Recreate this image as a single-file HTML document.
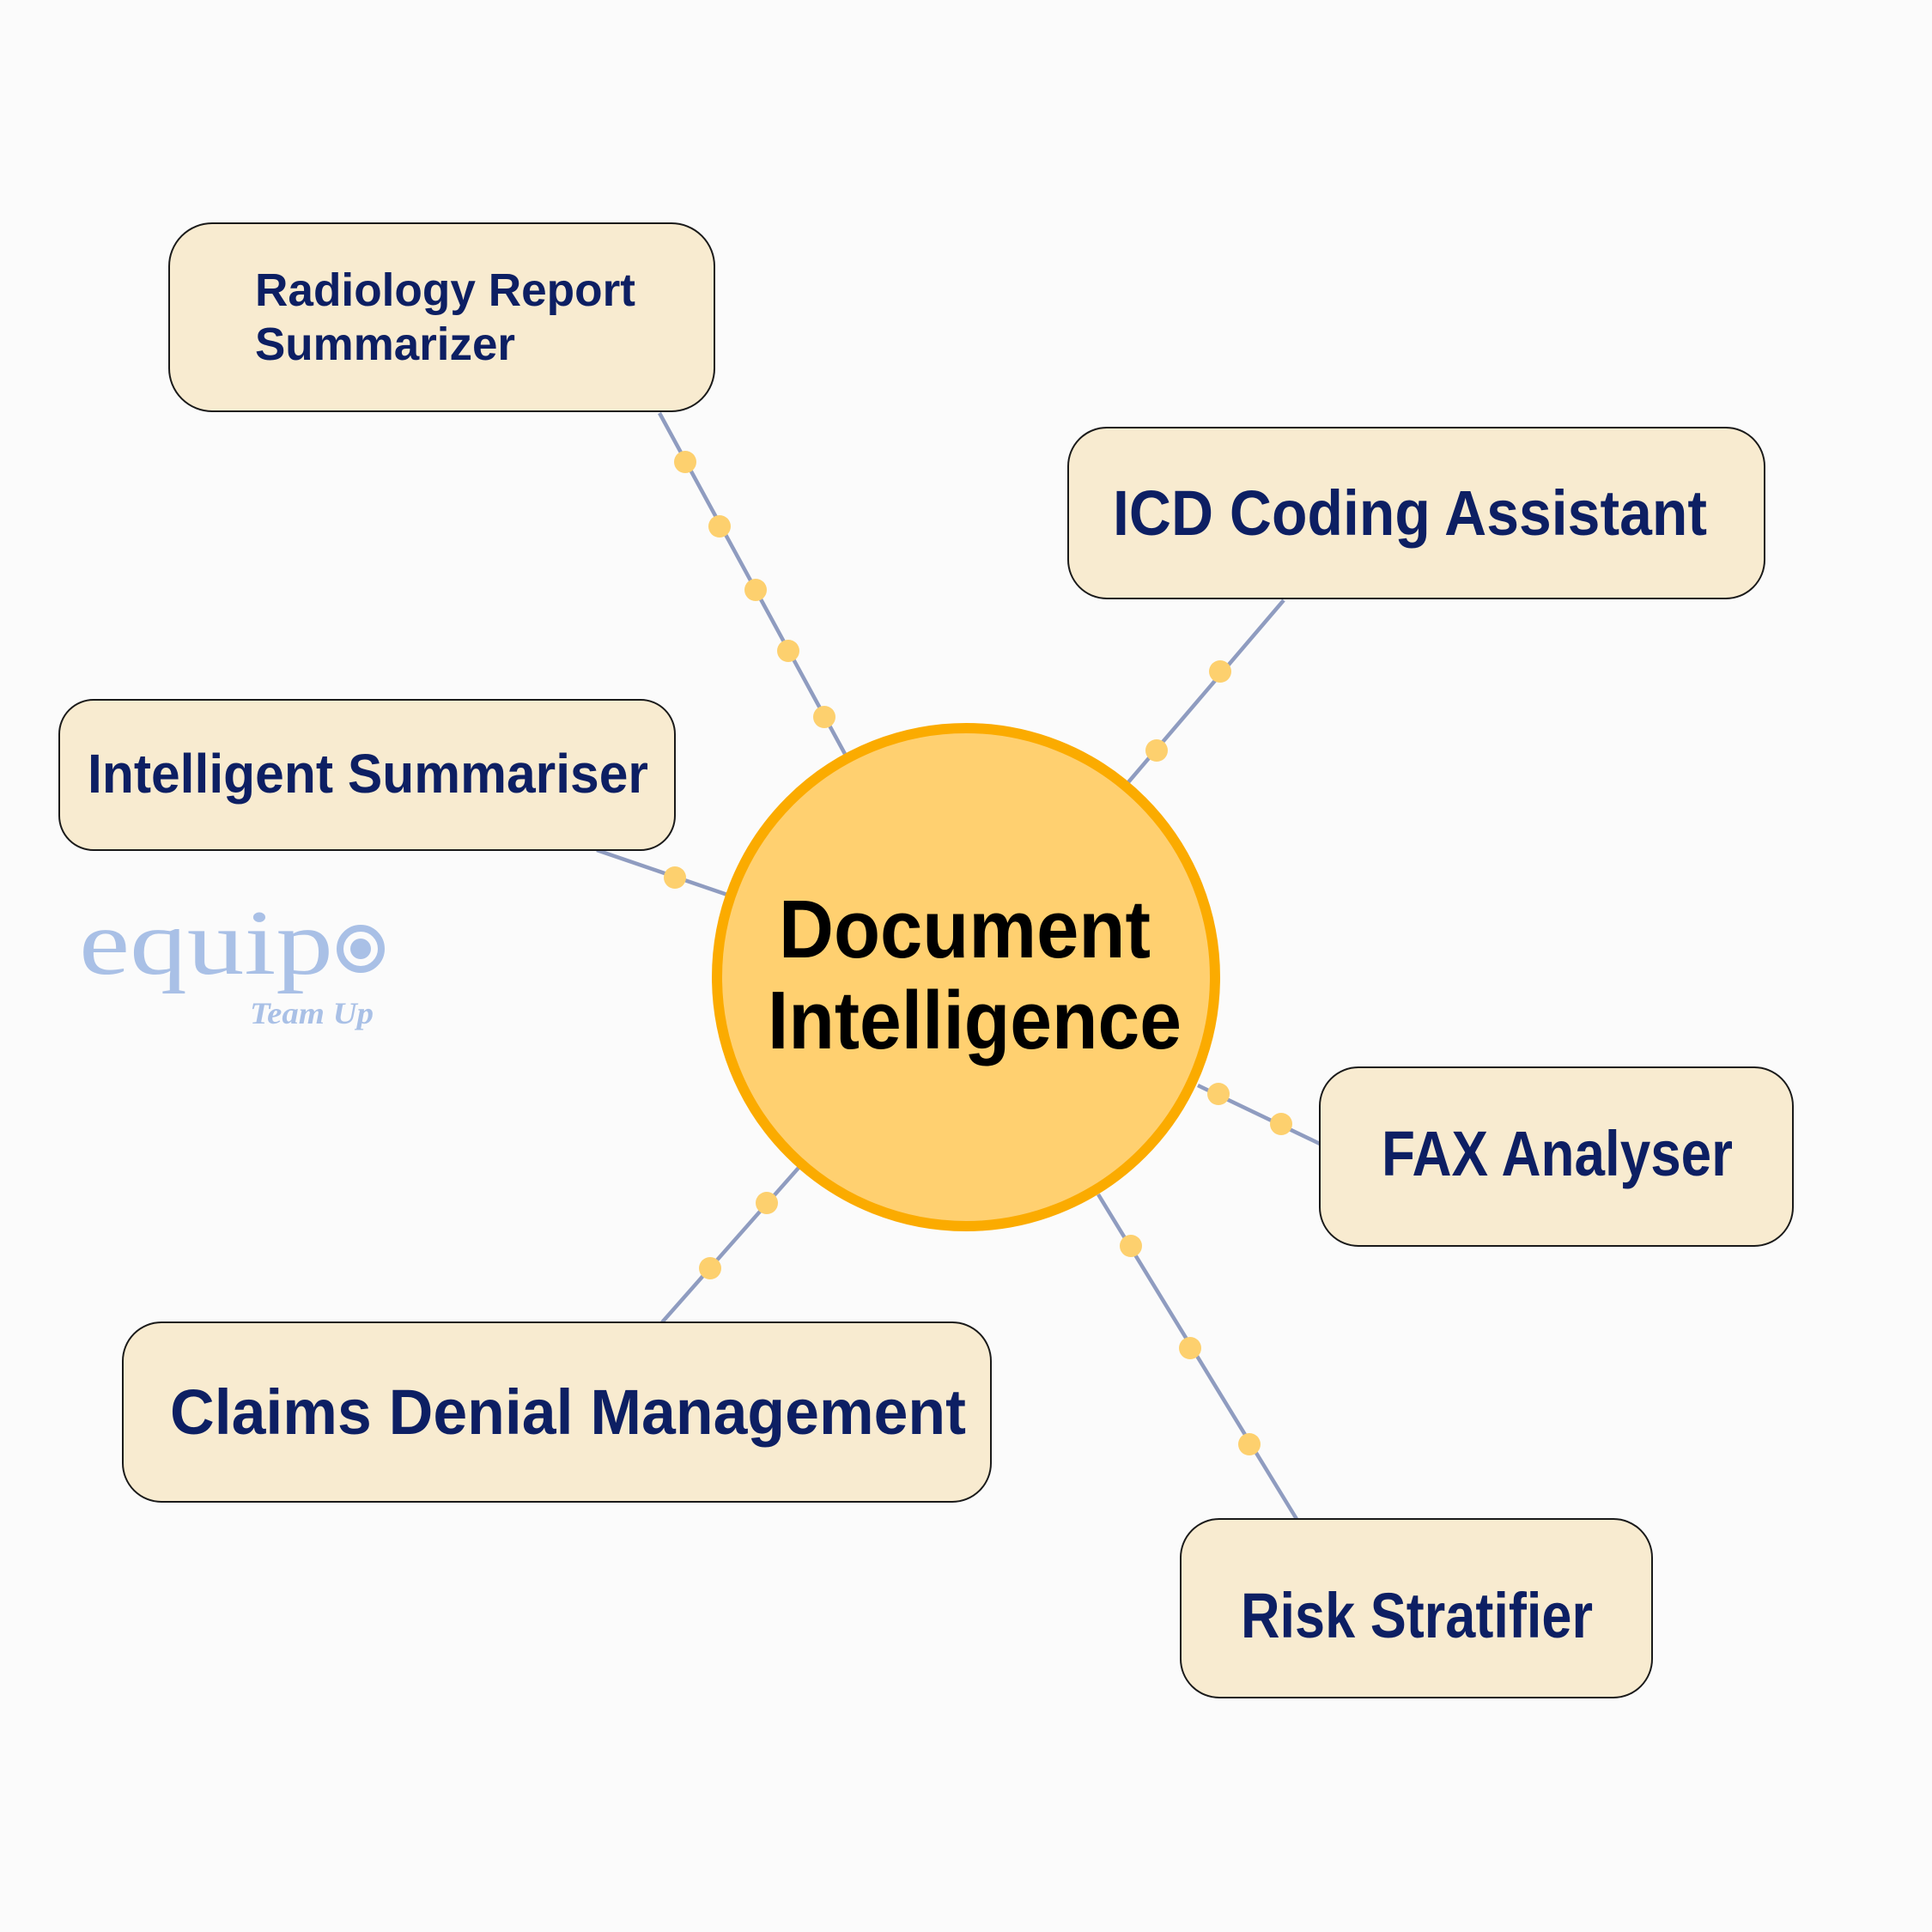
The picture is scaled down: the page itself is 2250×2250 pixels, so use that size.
<!DOCTYPE html>
<html><head><meta charset="utf-8"><style>html,body{margin:0;padding:0;background:#fbfbfb}svg{display:block}</style></head>
<body>
<svg width="2250" height="2250" viewBox="0 0 2250 2250" xmlns="http://www.w3.org/2000/svg">
<rect width="2250" height="2250" fill="#fbfbfb"/>
<g stroke="#8f9cc0" stroke-width="4.5">
<line x1="768" y1="481" x2="984" y2="878"/>
<line x1="1495" y1="699" x2="1314" y2="911"/>
<line x1="695" y1="990" x2="847" y2="1042"/>
<line x1="1395" y1="1264" x2="1537" y2="1332"/>
<line x1="771" y1="1540" x2="930" y2="1360"/>
<line x1="1279" y1="1391" x2="1510" y2="1769"/>
</g>
<g fill="#fdd06e">
<circle cx="798" cy="538" r="13"/><circle cx="838" cy="613" r="13"/><circle cx="880" cy="687" r="13"/><circle cx="918" cy="758" r="13"/><circle cx="960" cy="835" r="13"/>
<circle cx="1421" cy="782" r="13"/><circle cx="1347" cy="874" r="13"/>
<circle cx="786" cy="1022" r="13"/>
<circle cx="1419" cy="1274" r="13"/><circle cx="1492" cy="1309" r="13"/>
<circle cx="893" cy="1401" r="13"/><circle cx="827" cy="1477" r="13"/>
<circle cx="1317" cy="1451" r="13"/><circle cx="1386" cy="1570" r="13"/><circle cx="1455" cy="1682" r="13"/>
</g>
<g fill="#f8ebd0" stroke="#1a1a1a" stroke-width="2">
<rect x="197" y="260" width="635" height="219" rx="50"/>
<rect x="1244" y="498" width="811" height="199" rx="45"/>
<rect x="69" y="815" width="717" height="175" rx="40"/>
<rect x="1537" y="1243" width="551" height="208" rx="45"/>
<rect x="143" y="1540" width="1011" height="209" rx="45"/>
<rect x="1375" y="1769" width="549" height="208" rx="45"/>
</g>
<circle cx="1125" cy="1138" r="290" fill="#ffd070" stroke="#fbab00" stroke-width="12"/>
<g font-family="Liberation Sans, sans-serif" font-weight="bold" fill="#0d1f63">
<text x="297" y="356" font-size="54" textLength="443" lengthAdjust="spacingAndGlyphs">Radiology Report</text>
<text x="297" y="419" font-size="54" textLength="303" lengthAdjust="spacingAndGlyphs">Summarizer</text>
<text x="1296" y="623" font-size="74" textLength="692" lengthAdjust="spacingAndGlyphs">ICD Coding Assistant</text>
<text x="102" y="923" font-size="64" textLength="653" lengthAdjust="spacingAndGlyphs">Intelligent Summariser</text>
<text x="1609" y="1369" font-size="74" textLength="409" lengthAdjust="spacingAndGlyphs">FAX Analyser</text>
<text x="198" y="1670" font-size="74" textLength="927" lengthAdjust="spacingAndGlyphs">Claims Denial Management</text>
<text x="1445" y="1907" font-size="74" textLength="410" lengthAdjust="spacingAndGlyphs">Risk Stratifier</text>
<text x="907" y="1115" font-size="96" fill="#000" textLength="433" lengthAdjust="spacingAndGlyphs">Document</text>
<text x="894" y="1221" font-size="96" fill="#000" textLength="482" lengthAdjust="spacingAndGlyphs">Intelligence</text>
</g>
<g fill="#a9c0e6">
<text x="92" y="1134" font-family="Liberation Serif, serif" font-size="108" textLength="296" lengthAdjust="spacingAndGlyphs">equip</text>
<circle cx="420" cy="1105" r="24" fill="none" stroke="#a9c0e6" stroke-width="8"/>
<circle cx="420" cy="1105" r="12"/>
<text x="291" y="1192" font-family="Liberation Serif, serif" font-style="italic" font-weight="bold" font-size="36" textLength="144" lengthAdjust="spacingAndGlyphs">Team Up</text>
</g>
</svg>
</body></html>
